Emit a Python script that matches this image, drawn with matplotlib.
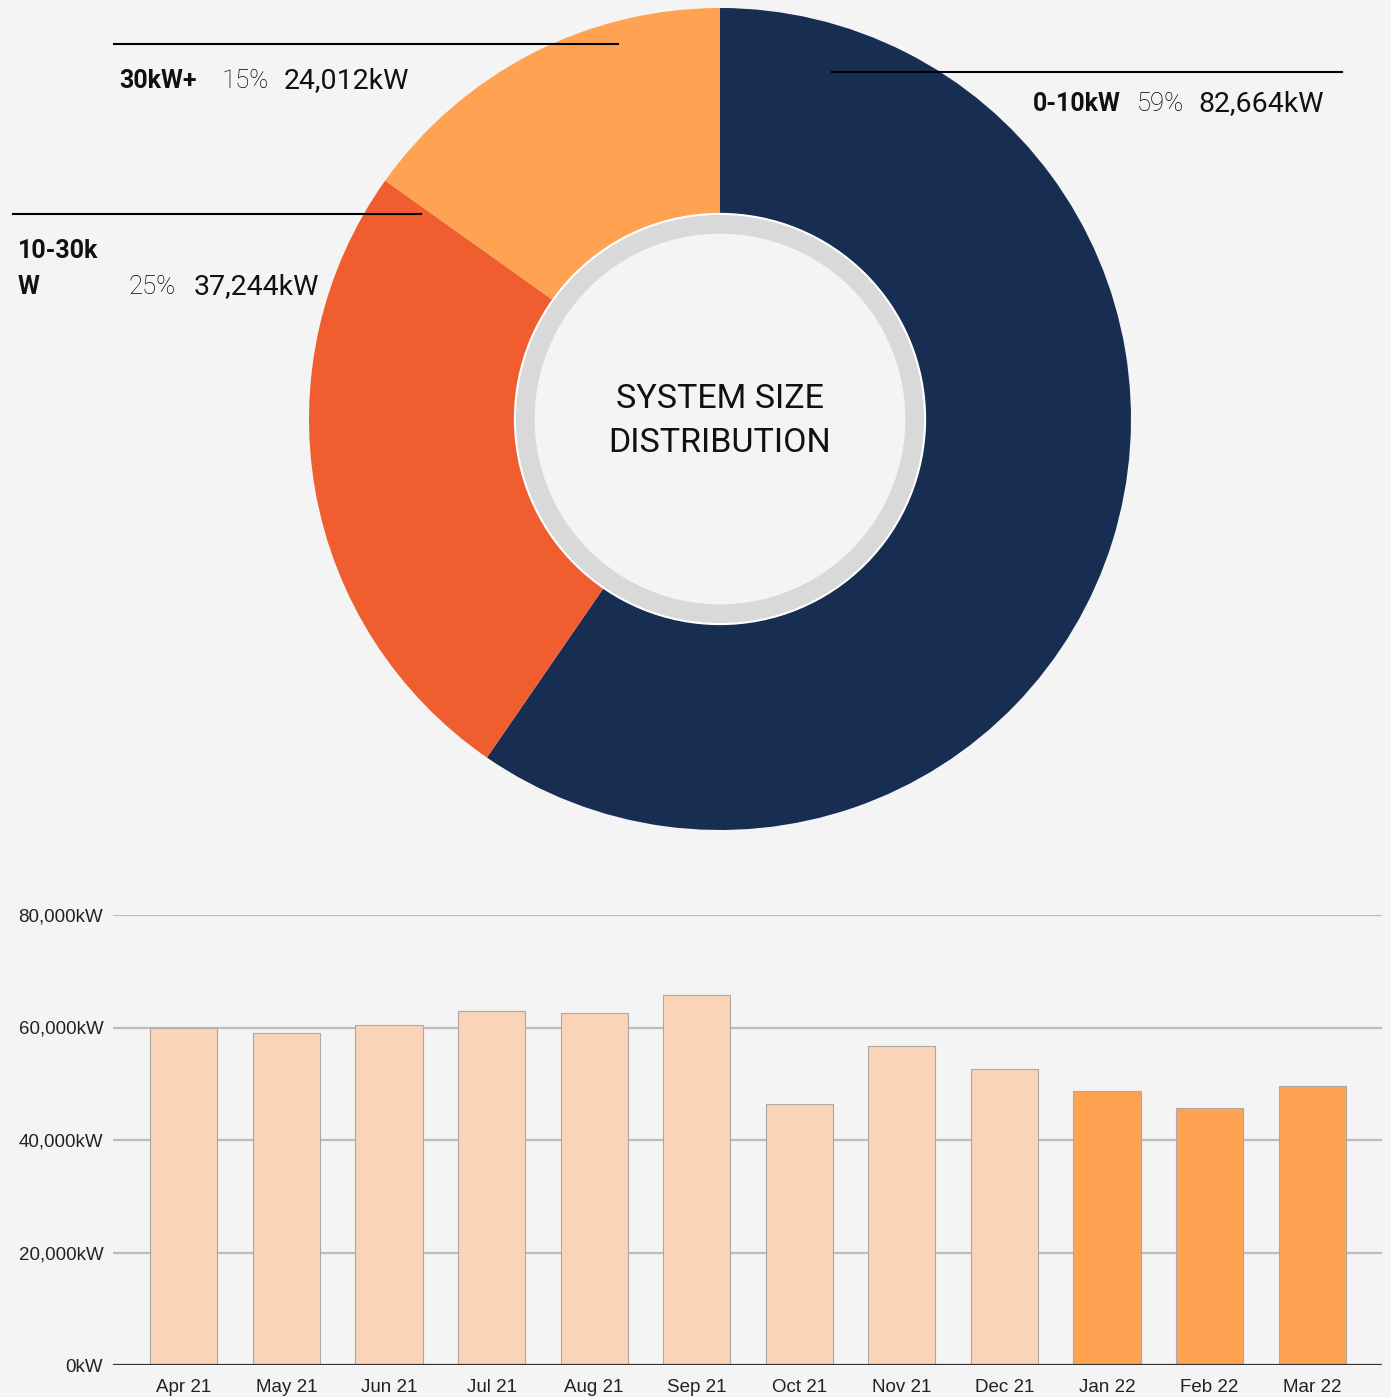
import numpy as np
import matplotlib
matplotlib.use("Agg")
from matplotlib import pyplot as plt
from matplotlib.patches import Circle

# donut data
size_names = ['0-10kW', '10-30kW', '30kW+']
size_pcts = [59, 25, 15]
size_kw = ['82,664kW', '37,244kW', '24,012kW']
size_colors = ['#172D52', '#F05D2F', '#FFA352']

# monthly bars
months = ['Apr 21', 'May 21', 'Jun 21', 'Jul 21', 'Aug 21', 'Sep 21',
          'Oct 21', 'Nov 21', 'Dec 21', 'Jan 22', 'Feb 22', 'Mar 22']
month_kw = [59900, 59000, 60450, 62900, 62600, 65800,
            46400, 56700, 52600, 48700, 45700, 49600]
highlight = [False] * 9 + [True] * 3
yticks = [0, 20000, 40000, 60000, 80000]

BG = '#F4F4F4'
W, H = 1391, 1397

fig = plt.figure(figsize=(W / 100, H / 100), dpi=100, facecolor=BG)


def px_rect(left, top, right, bottom):
    return [left / W, 1 - bottom / H, (right - left) / W, (bottom - top) / H]


# ---- donut ----
ax_pie = fig.add_axes(px_rect(309, 8, 1131, 830))
ax_pie.set_facecolor('none')
ax_pie.pie(size_pcts, colors=size_colors, startangle=90, counterclock=False,
           radius=1.0, wedgeprops=dict(width=0.5, linewidth=0))
ax_pie.add_patch(Circle((0, 0), 0.499, facecolor='#D9D9D9', edgecolor='white', lw=1.5, zorder=3))
ax_pie.add_patch(Circle((0, 0), 0.451, facecolor=BG, edgecolor='none', zorder=4))
ax_pie.text(0, -0.005, 'SYSTEM SIZE\nDISTRIBUTION', ha='center', va='center', zorder=5,
            fontsize=24.5, family=['Roboto', 'DejaVu Sans'],
            color='#111111', linespacing=1.5)
ax_pie.set_xlim(-1, 1)
ax_pie.set_ylim(-1, 1)
ax_pie.axis('off')

# overlay in pixel coords for the leader lines / labels
ov = fig.add_axes([0, 0, 1, 1])
ov.set_xlim(0, W)
ov.set_ylim(H, 0)
ov.axis('off')
ov.patch.set_alpha(0)

line_kw = dict(color='black', lw=1.5)
ov.plot([114, 618], [44, 44], **line_kw)
ov.plot([832, 1342], [72, 72], **line_kw)
ov.plot([13, 421], [214, 214], **line_kw)

cat_font = dict(family=['Roboto', 'DejaVu Sans'], fontweight='bold', fontsize=18, color='#111111', va='center')
pct_font = dict(family=['Roboto', 'DejaVu Sans'], fontweight='light', fontsize=18.5, color='#000000', va='center')
val_font = dict(family=['Roboto', 'DejaVu Sans'], fontsize=20.5, color='#111111', va='center')

ov.text(119, 81, size_names[2], **cat_font)
ov.text(222, 81, f'{size_pcts[2]}%', **pct_font)
ov.text(284, 81, size_kw[2], **val_font)

ov.text(1033, 104, size_names[0], **cat_font)
ov.text(1137, 104, f'{size_pcts[0]}%', **pct_font)
ov.text(1198, 104, size_kw[0], **val_font)

ov.text(18, 251, size_names[1][:-1], **cat_font)
ov.text(18, 287, size_names[1][-1], **cat_font)
ov.text(129, 287, f'{size_pcts[1]}%', **pct_font)
ov.text(194, 287, size_kw[1], **val_font)

# ---- bars ----
ax = fig.add_axes(px_rect(113, 915, 1382, 1365))
ax.set_facecolor('none')
x = np.arange(len(months))
bar_colors = ['#FFA352' if h else '#FBD4B7' for h in highlight]
ax.bar(x, month_kw, width=0.655, color=bar_colors, edgecolor='#A9A9A9', linewidth=0.8, zorder=3)
ax.set_ylim(0, 80000)
ax.set_xlim(-0.69, 11.68)
ax.set_yticks(yticks)
ax.set_yticklabels([f'{v:,}kW' for v in yticks])
ax.set_xticks(x)
ax.set_xticklabels(months)
ax.tick_params(length=0, labelsize=13.5, labelcolor='#222222')
ax.tick_params(axis='y', pad=7)
ax.tick_params(axis='x', pad=10)
for lab in ax.get_xticklabels() + ax.get_yticklabels():
    lab.set_family(['Liberation Sans', 'DejaVu Sans'])
for v in yticks[1:]:
    ax.axhline(v, color='#BDBDBD', lw=1.6, zorder=1)
ax.axhline(0, color='#333333', lw=1.6, zorder=4)
for s in ax.spines.values():
    s.set_visible(False)

fig.savefig('out.png', dpi=100, facecolor=BG)
